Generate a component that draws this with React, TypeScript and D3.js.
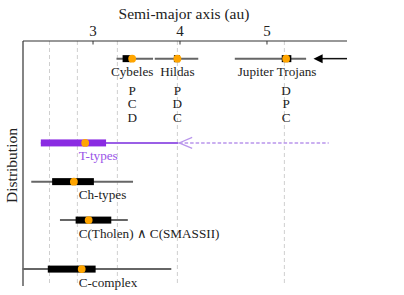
import React from 'react';
import * as d3 from 'd3';

// semi-major axis (au) summaries per group
const groups = ['Cybeles', 'Hildas', 'Jupiter Trojans', 'T-types', 'Ch-types', 'C(Tholen) ∧ C(SMASSII)', 'C-complex'];
const rowPos = [0.072, 0.072, 0.072, 0.416, 0.574, 0.731, 0.931];
const whiskerLo = [3.27, 3.71, 4.63, 2.4, 2.29, 2.62, 2.19];
const whiskerHi = [3.69, 4.21, 5.45, 3.98, 3.46, 3.4, 3.9];
const boxLo = [3.34, 3.93, 5.17, 2.4, 2.53, 2.8, 2.48];
const boxHi = [3.44, 4.0, 5.28, 3.15, 3.01, 3.21, 3.03];
const medians = [3.45, 3.97, 5.22, 2.91, 2.78, 2.95, 2.87];

// dominant taxonomic classes for the outer belt groups
const classLists = [['P', 'C', 'D'], ['P', 'D', 'C'], ['D', 'P', 'C']];

// resonances / Jupiter
const gaps = [2.5, 2.82, 3.28, 3.97, 5.2];
const xTicks = [3, 4, 5];

const W = 404;
const H = 295;
const left = 23;
const right = 347;
const top = 41;
const bottom = 286;

const PURPLE = '#8a2be2';
const ORANGE = '#ffa500';
const GREY = '#666';
const FONT = '"Liberation Serif", "DejaVu Serif", serif';

export default function App() {
  const x = d3.scaleLinear().domain([2.195, 5.92]).range([left, right]);
  const y = d3.scaleLinear().domain([0, 1]).range([top, bottom]);

  const labelX = x(2.835);

  return (
    <svg width={W} height={H} style={{ position: 'absolute', left: 0, top: 0, background: '#fff' }} fontFamily={FONT}>
      {/* gaps */}
      {gaps.map((g) => (
        <line key={g} x1={x(g)} x2={x(g)} y1={top} y2={bottom} stroke="#cfcfcf" strokeWidth={1} strokeDasharray="4,3" />
      ))}

      {/* spines + top axis */}
      <line x1={left} x2={right} y1={top} y2={top} stroke="#333" strokeWidth={1.2} />
      <line x1={left} x2={left} y1={top} y2={bottom} stroke="#333" strokeWidth={1.2} />
      {xTicks.map((t) => (
        <g key={t}>
          <line x1={x(t)} x2={x(t)} y1={top} y2={top + 3.5} stroke="#333" strokeWidth={1} />
          <text x={x(t)} y={35.5} textAnchor="middle" fontSize={15} fill="#222">{t}</text>
        </g>
      ))}
      <text x={184} y={18.5} textAnchor="middle" fontSize={15.5} fill="#222">Semi-major axis (au)</text>
      <text transform={`translate(17,${(top + bottom) / 2 + 2}) rotate(-90)`} textAnchor="middle" fontSize={15.5} fill="#222">Distribution</text>

      {/* T-types extension towards Jupiter */}
      <line x1={x(3.99)} x2={x(5.71)} y1={y(rowPos[3])} y2={y(rowPos[3])} stroke="#b995ec" strokeWidth={1.5} strokeDasharray="3.5,2" />
      <path
        d={`M${x(4.14)},${y(rowPos[3]) - 5.5} L${x(3.99)},${y(rowPos[3])} L${x(4.14)},${y(rowPos[3]) + 5.5}`}
        fill="none" stroke="#b995ec" strokeWidth={1.2}
      />

      {/* Trojans arrow from outside */}
      <line x1={x(5.6)} x2={right} y1={y(rowPos[2])} y2={y(rowPos[2])} stroke="#111" strokeWidth={1.5} />
      <path
        d={`M${x(5.535)},${y(rowPos[2])} L${x(5.64)},${y(rowPos[2]) - 4.5} L${x(5.64)},${y(rowPos[2]) + 4.5} Z`}
        fill="#000"
      />

      {groups.map((name, i) => {
        const cy = y(rowPos[i]);
        const isT = name === 'T-types';
        const top3 = i < 3;
        return (
          <g key={name}>
            <line x1={x(whiskerLo[i])} x2={x(whiskerHi[i])} y1={cy} y2={cy} stroke={isT ? '#9a5fe6' : GREY} strokeWidth={2} />
            <rect x={x(boxLo[i])} y={cy - 3.5} width={x(boxHi[i]) - x(boxLo[i])} height={7} fill={isT ? PURPLE : '#000'} />
            <circle cx={x(medians[i])} cy={cy} r={3.9} fill={ORANGE} />
            <text
              x={top3 ? x(medians[i]) - (i === 2 ? 9 : 0) : labelX}
              y={cy + 17.5}
              textAnchor={top3 ? 'middle' : 'start'}
              fontSize={13.2}
              fill={isT ? '#9a55e8' : '#222'}
            >
              {name}
            </text>
          </g>
        );
      })}

      {classLists.map((cls, i) =>
        cls.map((c, j) => (
          <text key={`${i}-${c}`} x={x(medians[i])} y={94.5 + j * 13.6} textAnchor="middle" fontSize={13.2} fill="#222">{c}</text>
        ))
      )}
    </svg>
  );
}
